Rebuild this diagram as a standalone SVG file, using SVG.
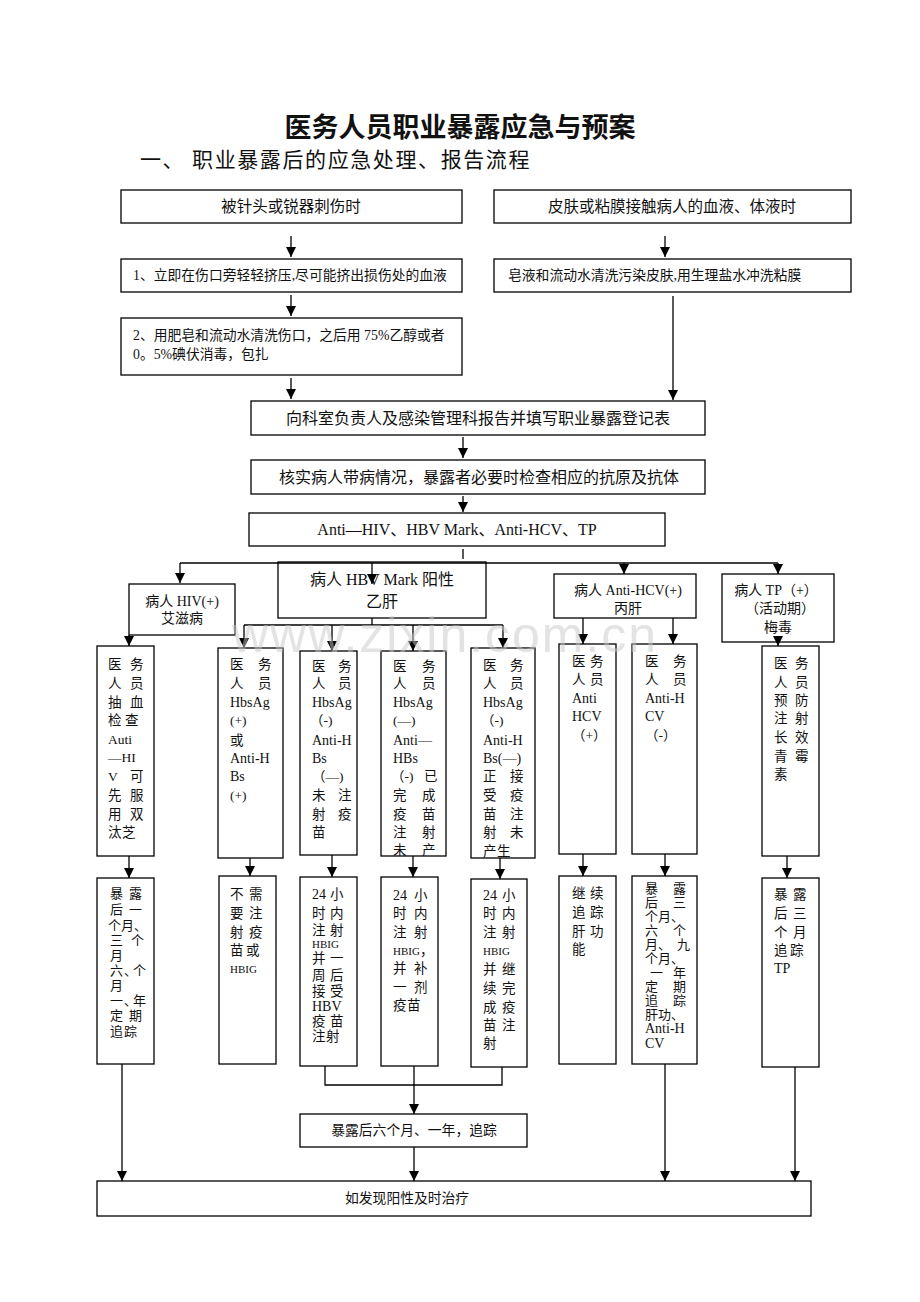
<svg xmlns="http://www.w3.org/2000/svg" width="920" height="1302" viewBox="0 0 920 1302">
<style>
.b{fill:#fff;stroke:#000;stroke-width:1.3}
.l{fill:none;stroke:#000;stroke-width:1.3}
text{font-family:"Liberation Serif","Noto Sans CJK SC",serif;fill:#111}
.m{font-size:15.5px;text-anchor:middle}
.s{font-size:13.8px}
.k{font-size:14px;text-anchor:middle}
.c{font-size:13.5px}
.d{font-size:13px}
.h{font-size:11px}
</style>
<defs>
<marker id="ar" markerUnits="userSpaceOnUse" markerWidth="10" markerHeight="10" refX="10" refY="5" orient="auto" viewBox="0 0 10 10">
<path d="M0,0 L10,5 L0,10 z" fill="#000"/>
</marker>
<clipPath id="cp4"><rect x="381" y="651" width="65" height="205"/></clipPath>
</defs>
<rect width="920" height="1302" fill="#fff"/>

<g id="title">
<text x="460" y="137" style="font-size:27px;font-weight:bold;text-anchor:middle">医务人员职业暴露应急与预案</text>
<text x="140" y="167" style="font-size:21px;letter-spacing:1.6px">一、 职业暴露后的应急处理、报告流程</text>
</g>

<g id="n1"><rect class="b" x="121" y="190" width="341" height="33"/><text class="m" x="291" y="212">被针头或锐器刺伤时</text></g>
<g id="n2"><rect class="b" x="494" y="190" width="357" height="33"/><text class="m" x="672" y="212">皮肤或粘膜接触病人的血液、体液时</text></g>
<g id="n3"><rect class="b" x="121" y="259" width="341" height="33"/><text class="s" x="133" y="280">1、立即在伤口旁轻轻挤压,尽可能挤出损伤处的血液</text></g>
<g id="n4"><rect class="b" x="494" y="259" width="357" height="33"/><text class="s" x="508" y="280">皂液和流动水清洗污染皮肤,用生理盐水冲洗粘膜</text></g>
<g id="n5"><rect class="b" x="121" y="318" width="341" height="57"/><text class="s" x="133" y="340">2、用肥皂和流动水清洗伤口，之后用 75%乙醇或者</text><text class="s" x="133" y="359">0。5%碘伏消毒，包扎</text></g>
<g id="n6"><rect class="b" x="251" y="401" width="454" height="34"/><text class="m" x="478" y="424" style="font-size:16px">向科室负责人及感染管理科报告并填写职业暴露登记表</text></g>
<g id="n7"><rect class="b" x="251" y="460" width="454" height="34"/><text class="m" x="479" y="483" style="font-size:16px">核实病人带病情况，暴露者必要时检查相应的抗原及抗体</text></g>
<g id="n8"><rect class="b" x="249" y="513" width="416" height="33"/><text class="m" x="457" y="535" style="font-size:16px">Anti—HIV、HBV Mark、Anti-HCV、TP</text></g>

<g id="hiv"><rect class="b" x="129" y="584" width="106" height="51"/><text class="k" x="182" y="606">病人 HIV(+)</text><text class="k" x="182" y="623">艾滋病</text></g>
<g id="hbv"><rect class="b" x="278" y="562" width="208" height="56"/><text class="k" x="382" y="585" style="font-size:16px">病人 HBV Mark 阳性</text><text class="k" x="382" y="607" style="font-size:16px">乙肝</text></g>
<g id="hcv"><rect class="b" x="554" y="574" width="142" height="44"/><text class="k" x="628" y="595">病人 Anti-HCV(+)</text><text class="k" x="628" y="613">丙肝</text></g>
<g id="tp"><rect class="b" x="722" y="574" width="112" height="68"/><text class="k" x="776" y="595">病人 TP（+）</text><text class="k" x="780" y="613">（活动期）</text><text class="k" x="778" y="632">梅毒</text></g>

<g id="c1"><rect class="b" x="97" y="646" width="57" height="210"/>
<text class="c" x="108 130" y="669">医务</text><text class="c" x="108 130" y="688">人员</text><text class="c" x="108 130" y="707">抽血</text><text class="c" x="108 125" y="725">检查</text><text class="c" x="108" y="744">Auti</text><text class="c" x="108" y="762">—HI</text><text class="c" x="108 130" y="781">V可</text><text class="c" x="108 130" y="800">先服</text><text class="c" x="108 130" y="819">用双</text><text class="c" x="108 122" y="837">汰芝</text></g>
<g id="c2"><rect class="b" x="218" y="648" width="65" height="210"/>
<text class="c" x="230 258" y="669">医务</text><text class="c" x="230 258" y="688">人员</text><text class="c" x="230" y="707" style="font-size:14px">HbsAg</text><text class="c" x="230" y="725">(+)</text><text class="c" x="230" y="745">或</text><text class="c" x="230" y="763" style="font-size:14px">Anti-H</text><text class="c" x="230" y="781" style="font-size:14px">Bs</text><text class="c" x="230" y="800">(+)</text></g>
<g id="c3"><rect class="b" x="300" y="651" width="57" height="204"/>
<text class="c" x="312 338" y="671">医务</text><text class="c" x="312 338" y="688">人员</text><text class="c" x="312" y="707" style="font-size:14px">HbsAg</text><text class="c" x="310" y="725">（-)</text><text class="c" x="312" y="745" style="font-size:14px">Anti-H</text><text class="c" x="312" y="763" style="font-size:14px">Bs</text><text class="c" x="312" y="781">（—)</text><text class="c" x="312 338" y="800">未注</text><text class="c" x="312 338" y="819">射疫</text><text class="c" x="312" y="837">苗</text></g>
<g id="c4"><rect class="b" x="381" y="651" width="65" height="205"/>
<g clip-path="url(#cp4)"><text class="c" x="393 422" y="671">医务</text><text class="c" x="393 422" y="688">人员</text><text class="c" x="393" y="707" style="font-size:14px">HbsAg</text><text class="c" x="393" y="725">(—)</text><text class="c" x="393" y="745" style="font-size:14px">Anti—</text><text class="c" x="393" y="763" style="font-size:14px">HBs</text><text class="c" x="391" y="781">（-)<tspan x="424">已</tspan></text><text class="c" x="393 422" y="800">完成</text><text class="c" x="393 422" y="819">疫苗</text><text class="c" x="393 422" y="837">注射</text><text class="c" x="393 422" y="855">未产</text><text class="c" x="393" y="869">生</text></g></g>
<g id="c5"><rect class="b" x="471" y="648" width="64" height="210"/>
<text class="c" x="483 510" y="670">医务</text><text class="c" x="483 510" y="688">人员</text><text class="c" x="483" y="707" style="font-size:14px">HbsAg</text><text class="c" x="481" y="725">（-)</text><text class="c" x="483" y="745" style="font-size:14px">Anti-H</text><text class="c" x="483" y="763" style="font-size:14px">Bs(—)</text><text class="c" x="483 510" y="781">正接</text><text class="c" x="483 510" y="800">受疫</text><text class="c" x="483 510" y="819">苗注</text><text class="c" x="483 510" y="837">射未</text><text class="c" x="483 497" y="856">产生</text></g>
<g id="c6"><rect class="b" x="559" y="644" width="57" height="210"/>
<text class="c" x="572 590" y="666">医务</text><text class="c" x="572 590" y="684">人员</text><text class="c" x="572" y="703" style="font-size:14px">Anti</text><text class="c" x="572" y="721" style="font-size:14px">HCV</text><text class="c" x="572" y="740">（+）</text></g>
<g id="c7"><rect class="b" x="632" y="644" width="65" height="210"/>
<text class="c" x="645 673" y="666">医务</text><text class="c" x="645 673" y="684">人员</text><text class="c" x="645" y="703" style="font-size:14px">Anti-H</text><text class="c" x="645" y="721" style="font-size:14px">CV</text><text class="c" x="645" y="740">（-）</text></g>
<g id="c8"><rect class="b" x="762" y="646" width="57" height="210"/>
<text class="c" x="774 795" y="668">医务</text><text class="c" x="774 795" y="687">人员</text><text class="c" x="774 795" y="705">预防</text><text class="c" x="774 795" y="723">注射</text><text class="c" x="774 795" y="742">长效</text><text class="c" x="774 795" y="761">青霉</text><text class="c" x="774" y="779">素</text></g>

<g id="r1"><rect class="b" x="97" y="878" width="57" height="186"/>
<text class="d" x="110 129" y="898">暴露</text><text class="d" x="110 129" y="914">后一</text><text class="d" x="108 121 134" y="930">个月、</text><text class="d" x="110 131" y="945">三个</text><text class="d" x="110" y="960">月</text><text class="d" x="110 124 133" y="975">六、个</text><text class="d" x="110" y="990">月</text><text class="d" x="110 124 133" y="1005">一、年</text><text class="d" x="110 129" y="1020">定期</text><text class="d" x="110 124" y="1036">追踪</text></g>
<g id="r2"><rect class="b" x="219" y="876" width="57" height="188"/>
<text class="c" x="230 249" y="899">不需</text><text class="c" x="230 249" y="918">要注</text><text class="c" x="230 249" y="937">射疫</text><text class="c" x="230 246" y="955">苗或</text><text class="h" x="230" y="973">HBIG</text></g>
<g id="r3"><rect class="b" x="300" y="877" width="57" height="189"/>
<text class="c" x="312" y="899" style="font-size:14px">24<tspan x="330" style="font-size:13.5px">小</tspan></text><text class="c" x="312 330" y="918">时内</text><text class="c" x="312 330" y="935">注射</text><text class="h" x="312" y="948">HBIG</text><text class="c" x="312 330" y="963">并一</text><text class="c" x="312 330" y="980">周后</text><text class="c" x="312 330" y="996">接受</text><text class="c" x="312" y="1011" style="font-size:14px">HBV</text><text class="c" x="312 330" y="1026">疫苗</text><text class="c" x="312 326" y="1041">注射</text></g>
<g id="r4"><rect class="b" x="381" y="877" width="57" height="189"/>
<text class="c" x="393" y="900" style="font-size:14px">24<tspan x="414" style="font-size:13.5px">小</tspan></text><text class="c" x="393 414" y="918">时内</text><text class="c" x="393 414" y="937">注射</text><text class="c" x="393" y="955"><tspan class="h">HBIG</tspan>，</text><text class="c" x="393 414" y="973">并补</text><text class="c" x="393 414" y="992">一剂</text><text class="c" x="393 407" y="1010">疫苗</text></g>
<g id="r5"><rect class="b" x="471" y="879" width="56" height="188"/>
<text class="c" x="483" y="900" style="font-size:14px">24<tspan x="502" style="font-size:13.5px">小</tspan></text><text class="c" x="483 502" y="918">时内</text><text class="c" x="483 502" y="937">注射</text><text class="h" x="483" y="955">HBIG</text><text class="c" x="483 502" y="974">并继</text><text class="c" x="483 502" y="993">续完</text><text class="c" x="483 502" y="1012">成疫</text><text class="c" x="483 502" y="1030">苗注</text><text class="c" x="483" y="1048">射</text></g>
<g id="r6"><rect class="b" x="559" y="876" width="57" height="188"/>
<text class="c" x="572 590" y="898">继续</text><text class="c" x="572 590" y="917">追踪</text><text class="c" x="572 590" y="936">肝功</text><text class="c" x="572" y="954">能</text></g>
<g id="r7"><rect class="b" x="632" y="876" width="65" height="188"/>
<text class="d" x="645 673" y="893">暴露</text><text class="d" x="645 673" y="907">后三</text><text class="d" x="645 658 671" y="921">个月、</text><text class="d" x="645 673" y="935">六个</text><text class="d" x="645 658 677" y="949">月、九</text><text class="d" x="645 658 671" y="963">个月、</text><text class="d" x="650 673" y="977">一年</text><text class="d" x="645 673" y="991">定期</text><text class="d" x="645 673" y="1005">追踪</text><text class="d" x="645" y="1019">肝功、</text><text class="d" x="645" y="1033" style="font-size:14px">Anti-H</text><text class="d" x="645" y="1048" style="font-size:14px">CV</text></g>
<g id="r8"><rect class="b" x="762" y="878" width="57" height="189"/>
<text class="c" x="774 793" y="899">暴露</text><text class="c" x="774 793" y="918">后三</text><text class="c" x="774 793" y="937">个月</text><text class="c" x="774 790" y="955">追踪</text><text class="c" x="774" y="973" style="font-size:14px">TP</text></g>

<g id="f1"><rect class="b" x="300" y="1114" width="227" height="33"/><text class="s" x="414" y="1135" style="text-anchor:middle">暴露后六个月、一年，追踪</text></g>
<g id="f2"><rect class="b" x="97" y="1181" width="714" height="35"/><text class="s" x="345" y="1203">如发现阳性及时治疗</text></g>

<g id="connectors" class="l">
<path class="l" d="M291,236V257" marker-end="url(#ar)"/>
<path class="l" d="M665,236V257" marker-end="url(#ar)"/>
<path class="l" d="M291,295V316" marker-end="url(#ar)"/>
<path class="l" d="M291,378V399" marker-end="url(#ar)"/>
<path class="l" d="M673,296V400" marker-end="url(#ar)"/>
<path class="l" d="M463,437V458" marker-end="url(#ar)"/>
<path class="l" d="M463,496V512" marker-end="url(#ar)"/>
<path class="l" d="M463,549V559"/>
<path class="l" d="M180,563H778"/>
<path class="l" d="M180,563V583" marker-end="url(#ar)"/>
<path class="l" d="M372,563V584" marker-end="url(#ar)"/>
<path class="l" d="M624,563V574" marker-end="url(#ar)"/>
<path class="l" d="M778,563V574" marker-end="url(#ar)"/>
<path class="l" d="M372,618V625M244,625H503"/>
<path class="l" d="M244,625V648" marker-end="url(#ar)"/>
<path class="l" d="M332,625V651" marker-end="url(#ar)"/>
<path class="l" d="M413,625V651" marker-end="url(#ar)"/>
<path class="l" d="M503,625V648" marker-end="url(#ar)"/>
<path class="l" d="M129,635V646" marker-end="url(#ar)"/>
<path class="l" d="M583,618V644" marker-end="url(#ar)"/>
<path class="l" d="M673,618V644" marker-end="url(#ar)"/>
<path class="l" d="M778,636V646" marker-end="url(#ar)"/>
<path class="l" d="M129,856V878" marker-end="url(#ar)"/>
<path class="l" d="M250,858V876" marker-end="url(#ar)"/>
<path class="l" d="M332,855V877" marker-end="url(#ar)"/>
<path class="l" d="M413,856V877" marker-end="url(#ar)"/>
<path class="l" d="M500,858V879" marker-end="url(#ar)"/>
<path class="l" d="M583,854V876" marker-end="url(#ar)"/>
<path class="l" d="M665,854V876" marker-end="url(#ar)"/>
<path class="l" d="M787,856V878" marker-end="url(#ar)"/>
<path class="l" d="M122,1064V1181" marker-end="url(#ar)"/>
<path class="l" d="M325,1066V1085H502V1067"/>
<path class="l" d="M414,1066V1114" marker-end="url(#ar)"/>
<path class="l" d="M414,1147V1181" marker-end="url(#ar)"/>
<path class="l" d="M665,1064V1181" marker-end="url(#ar)"/>
<path class="l" d="M795,1067V1181" marker-end="url(#ar)"/>
</g>

<text x="232" y="652" textLength="424" style="font-family:'Liberation Sans',sans-serif;font-size:50px;fill:#c8c8c8;fill-opacity:0.5">www.zixin.com.cn</text>
</svg>
